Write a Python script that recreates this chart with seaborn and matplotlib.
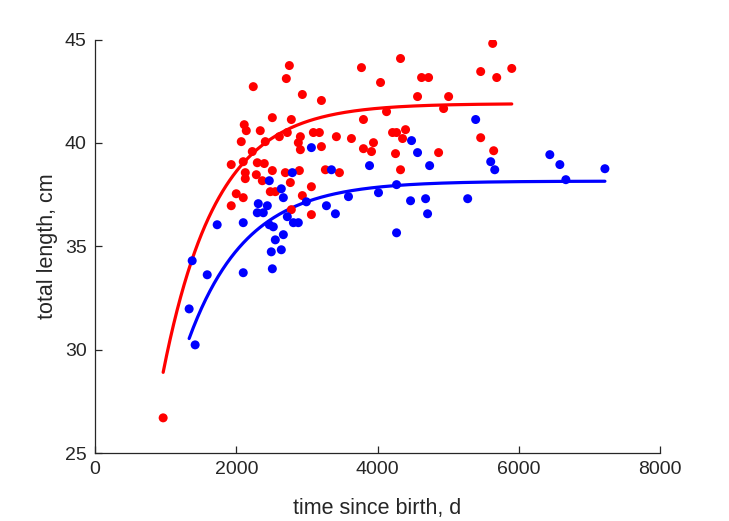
import numpy as np
import pandas as pd
import matplotlib
matplotlib.use("Agg")
import matplotlib.pyplot as plt
import seaborn as sns

# ---- data ----
red_t = [965, 2752, 2709, 2241, 2936, 3206, 2511, 2780, 2113, 2142, 2340, 2908, 3092, 3177,
         3418, 2071, 2411, 2610, 2723, 2879, 2908, 3206, 2227, 1929, 2099, 2298, 2397, 2511,
         2128, 2284, 2128, 2369, 2695, 2894, 3262, 3461, 2766, 3064, 2000, 2099, 2482, 2553,
         2936, 1929, 3064, 2780, 5631, 4326, 3773, 5461, 5901, 4043, 4624, 4723, 5688, 4567,
         5007, 4128, 4936, 3801, 4397, 4213, 4270, 3631, 4355, 3943, 3801, 3915, 4255, 4865,
         5461, 5645, 4326]
red_len = [26.70, 43.74, 43.11, 42.72, 42.34, 42.05, 41.22, 41.13, 40.88, 40.59, 40.59, 40.30,
           40.50, 40.50, 40.30, 40.06, 40.06, 40.30, 40.50, 40.01, 39.67, 39.82, 39.58, 38.95,
           39.09, 39.04, 39.00, 38.66, 38.56, 38.46, 38.27, 38.17, 38.56, 38.66, 38.70, 38.56,
           38.08, 37.88, 37.54, 37.35, 37.64, 37.64, 37.45, 36.96, 36.53, 36.77, 44.81, 44.08,
           43.64, 43.45, 43.60, 42.92, 43.16, 43.16, 43.16, 42.24, 42.24, 41.51, 41.66, 41.13,
           40.64, 40.50, 40.50, 40.21, 40.21, 40.01, 39.72, 39.58, 39.48, 39.53, 40.25, 39.62,
           38.70]

blue_t = [3064, 2794, 3348, 2468, 2638, 2667, 2312, 2440, 2298, 2383, 2993, 3277, 3404, 2723,
          1730, 2099, 2809, 2879, 2468, 2525, 5390, 4482, 4567, 3887, 4738, 5603, 5660, 3589,
          4014, 4270, 4468, 4681, 5277, 4709, 6440, 6582, 7220, 6667, 4270, 1376, 1589, 1333,
          1418, 2099, 2511, 2496, 2638, 2553, 2667]
blue_len = [39.77, 38.56, 38.70, 38.17, 37.78, 37.35, 37.06, 36.96, 36.62, 36.62, 37.15, 36.96,
            36.57, 36.43, 36.04, 36.14, 36.14, 36.14, 36.04, 35.94, 41.13, 40.11, 39.53, 38.90,
            38.90, 39.09, 38.70, 37.40, 37.59, 37.98, 37.20, 37.30, 37.30, 36.57, 39.43, 38.95,
            38.75, 38.22, 35.65, 34.30, 33.62, 31.97, 30.23, 33.72, 33.91, 34.73, 34.83, 35.31,
            35.56]

# growth-curve parameters (L_inf, k, t0) estimated from the drawn curves
groups = ["red", "blue"]
L_inf = [41.9, 38.15]
k_rate = [0.00133, 0.00122]
t_zero = [85.0, 12.0]

x_ticks = [0, 2000, 4000, 6000, 8000]
y_ticks = [25, 30, 35, 40, 45]
x_label = "time since birth, d"
y_label = "total length, cm"

# ---- build tables ----
pts = pd.concat([
    pd.DataFrame({"t": red_t, "L": red_len, "group": "red"}),
    pd.DataFrame({"t": blue_t, "L": blue_len, "group": "blue"}),
], ignore_index=True)

curves = []
for g, Li, kk, t0, tt in zip(groups, L_inf, k_rate, t_zero, [red_t, blue_t]):
    tg = np.linspace(min(tt), max(tt), 300)
    curves.append(pd.DataFrame({"t": tg, "L": Li * (1 - np.exp(-kk * (tg - t0))), "group": g}))
curves = pd.concat(curves, ignore_index=True)

palette = {"red": "#ff0000", "blue": "#0000ff"}

sns.set_style("white")
plt.rcParams["font.family"] = ["Liberation Sans", "DejaVu Sans"]

fig = plt.figure(figsize=(7.29, 5.21), dpi=100)
ax = fig.add_axes([95 / 729, (521 - 453) / 521, (660 - 95) / 729, (453 - 39.5) / 521])

sns.scatterplot(data=pts, x="t", y="L", hue="group", palette=palette, s=42,
                edgecolor="none", legend=False, ax=ax, zorder=3)
sns.lineplot(data=curves, x="t", y="L", hue="group", palette=palette, linewidth=2.3,
             legend=False, ax=ax, zorder=2)

ax.set_xlim(0, 8000)
ax.set_ylim(25, 45)
ax.set_xticks(x_ticks)
ax.set_yticks(y_ticks)
ax.set_xticklabels([str(v) for v in x_ticks])
ax.set_yticklabels([str(v) for v in y_ticks])
ax.set_xlabel(x_label, fontsize=15.5, color="#262626", labelpad=14)
ax.set_ylabel(y_label, fontsize=15.5, color="#262626", labelpad=5)

for side in ["top", "right"]:
    ax.spines[side].set_visible(False)
for side in ["left", "bottom"]:
    ax.spines[side].set_color("#262626")
    ax.spines[side].set_linewidth(0.9)
ax.tick_params(direction="in", length=5, width=0.9, colors="#262626",
               labelsize=14, pad=6, left=True, bottom=True)

fig.savefig("out.png", dpi=100)
